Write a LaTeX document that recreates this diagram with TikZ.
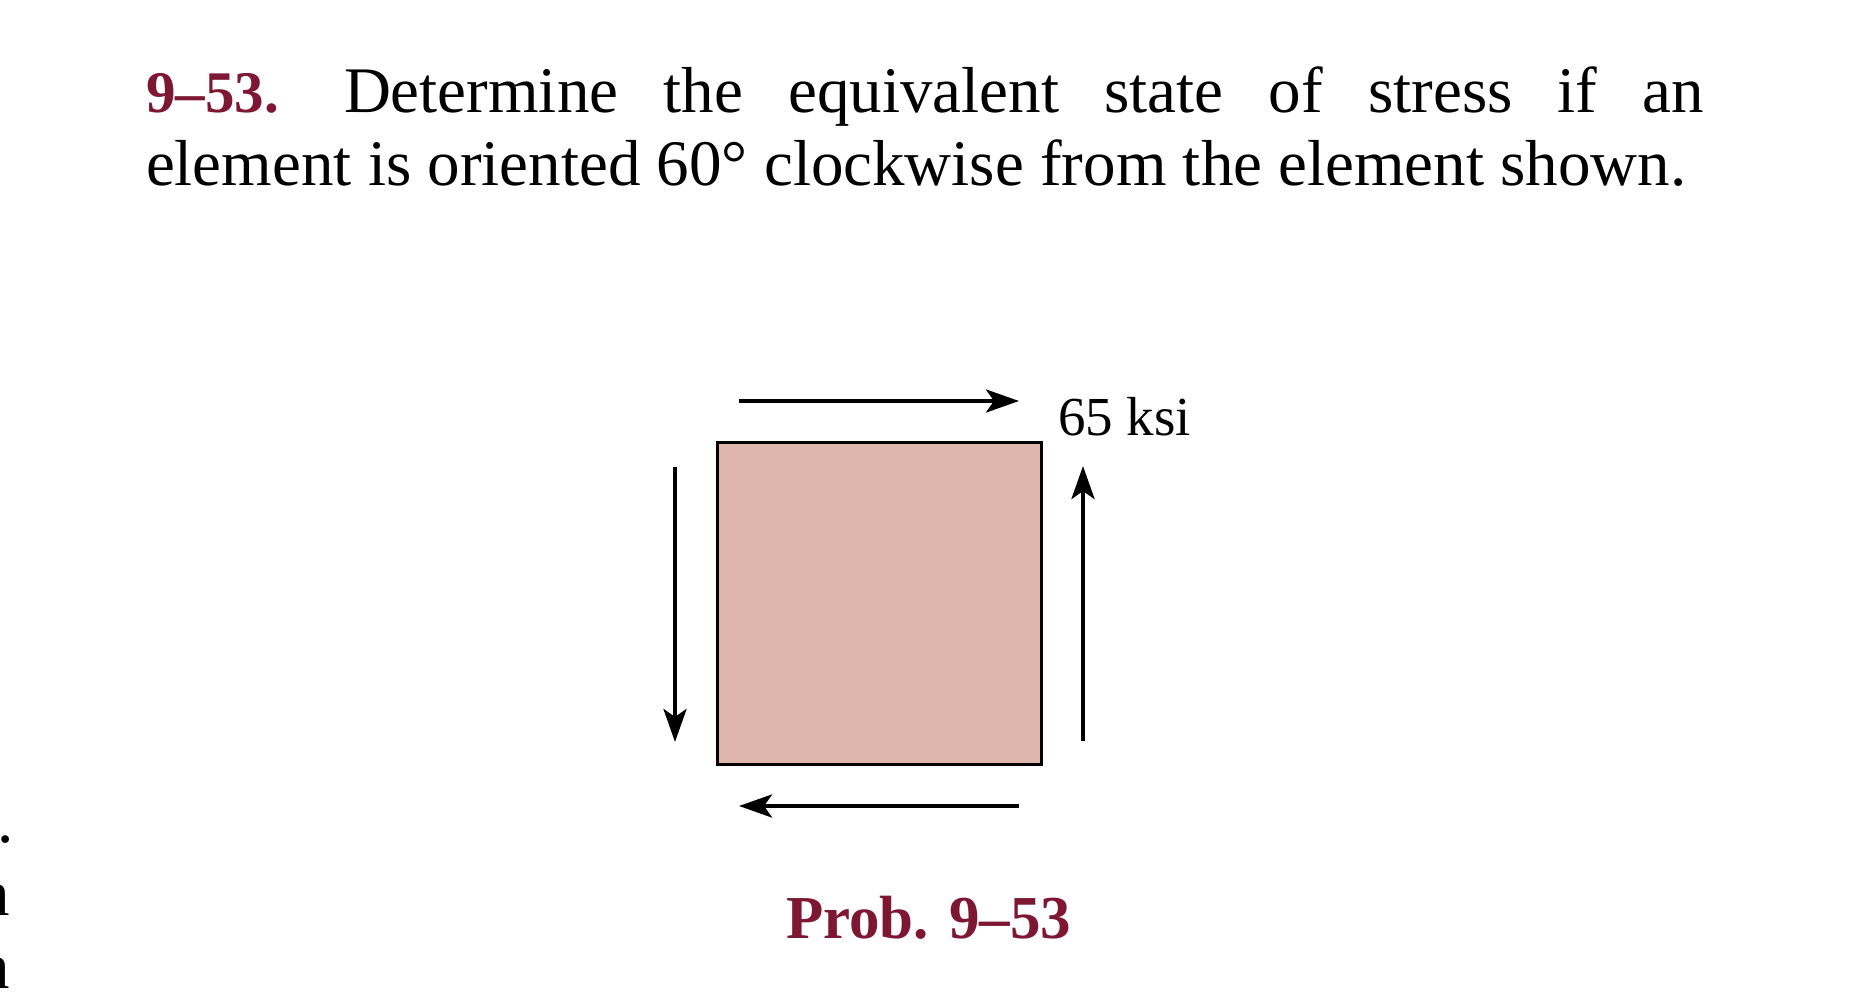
\documentclass[tikz,border=0pt]{standalone}
\usepackage{fontspec}
\setmainfont{Liberation Serif}
\usetikzlibrary{arrows.meta}
\definecolor{probred}{RGB}{125,23,51}
\definecolor{elemfill}{RGB}{222,182,171}
\tikzset{
  txt/.style={inner sep=0pt, outer sep=0pt, font=\fontsize{32.5}{36}\selectfont\frenchspacing},
  lbl/.style={inner sep=0pt, outer sep=0pt, font=\fontsize{27.5}{30}\selectfont},
  probcap/.style={inner sep=0pt, outer sep=0pt, text=probred, font=\fontsize{30.5}{34}\selectfont\bfseries},
  elem/.style={draw, line width=1.7pt, fill=elemfill, inner sep=0pt, outer sep=0pt,
    minimum width=162pt, minimum height=161pt},
  shear/.style={line width=2.2pt, -{Stealth[length=16.5pt, width=11.5pt, inset=4pt]}}
}
\begin{document}
\begin{tikzpicture}[x=0.5pt, y=-0.5pt]
    \useasboundingbox (0,0) rectangle (1862,1000);

    % problem statement
    \node[txt, anchor=base west] (line1) at (146,113)
      {\makebox[779pt][s]{\textcolor{probred}{\fontsize{29.5}{36}\selectfont\bfseries 9–53.}\hspace{10pt} Determine the equivalent state of stress if an}};
    \node[txt, anchor=base west] (line2) at (146,186)
      {element is oriented 60° clockwise from the element shown.};

    % cut-off text of the next column
    \node[txt, anchor=base east] (frag1) at (14,842) {.};
    \node[txt, anchor=base east] (frag2) at (10,915) {n};
    \node[txt, anchor=base east] (frag3) at (10,988) {n};

    % element
    \node[elem] (el) at (879.5,603.5) {};

    \coordinate (t1) at (739,401);
    \coordinate (t2) at (1019,401);
    \coordinate (b1) at (1019,806);
    \coordinate (b2) at (739,806);
    \coordinate (l1) at (675,467);
    \coordinate (l2) at (675,742);
    \coordinate (r1) at (1083,741);
    \coordinate (r2) at (1083,466);

    \foreach \s in {t,b,l,r}
    {
      \path (\s1) edge[shear] (\s2);
    };

    \node[lbl, anchor=base west] (tau) at (1058,435) {65 ksi};

    \node[probcap, anchor=base west] (prob) at (786,938) {Prob. 9–53};
\end{tikzpicture}
\end{document}
